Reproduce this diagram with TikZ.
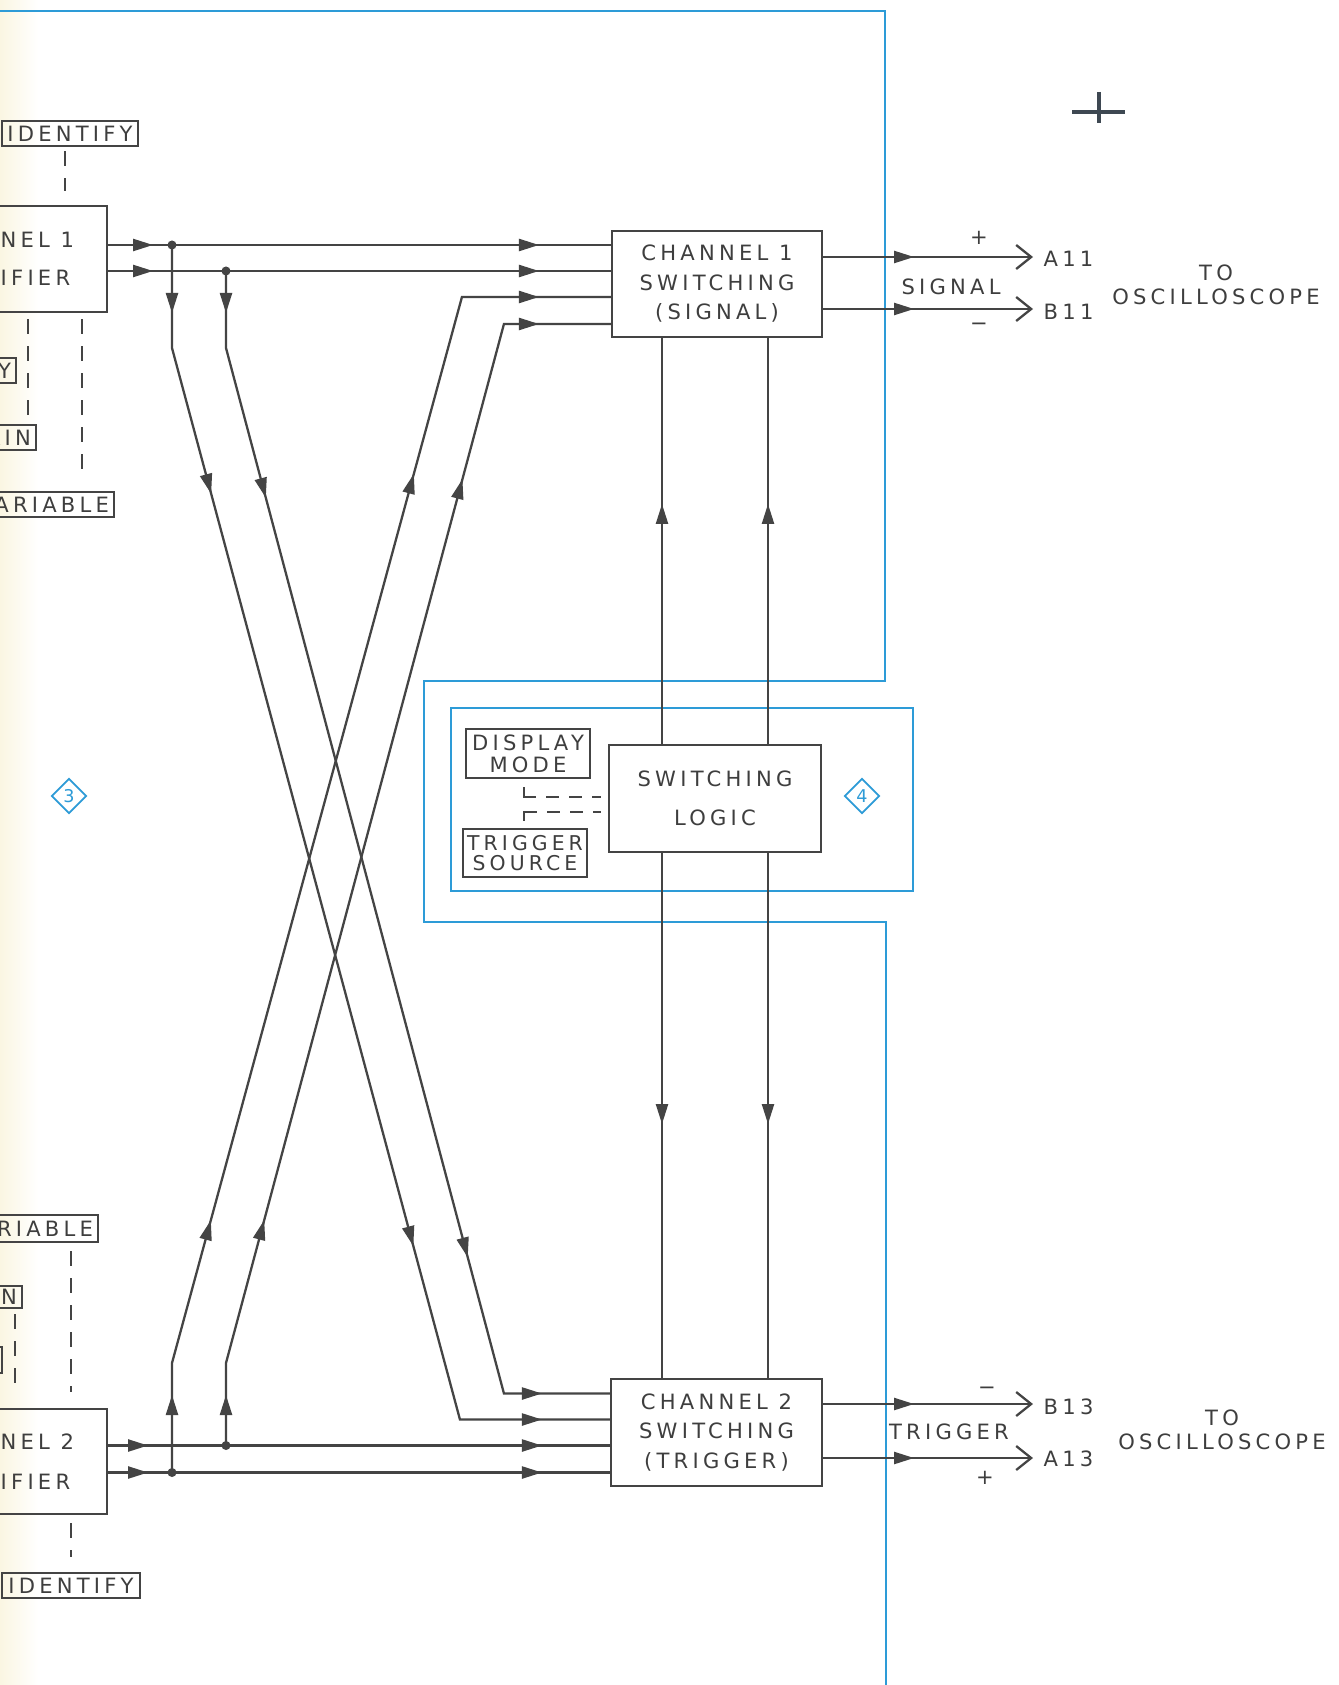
\documentclass[tikz,border=0pt]{standalone}
\usepackage{fontspec}
\usetikzlibrary{arrows.meta,decorations.markings,shapes.geometric}
\newfontfamily\lett[LetterSpace=20]{DejaVu Sans}
\definecolor{ink}{RGB}{68,68,68}
\definecolor{txt}{RGB}{62,62,62}
\definecolor{frameblue}{RGB}{45,155,215}
\definecolor{paper}{RGB}{250,246,226}
\definecolor{regink}{RGB}{62,72,82}
\tikzset{
  sig/.style={draw=ink, line width=0.65pt},
  arr/.style={postaction={decorate,decoration={markings,
    mark=at position #1 with {\arrow[ink]{Triangle[length=2mm,width=1.2mm]}}}}},
  blk/.style={draw=ink, line width=0.6pt, text=txt, align=center, inner sep=0,
    minimum width=21mm, minimum height=10.6mm, font=\lett\fontsize{6}{8.4}\selectfont},
  ctlbox/.style={draw=ink, line width=0.6pt, text=txt, inner xsep=0.5mm, inner ysep=0,
    minimum height=2.5mm, font=\lett\fontsize{6}{6.3}\selectfont},
  lbl/.style={text=txt, inner sep=0, align=center, font=\lett\fontsize{6}{6.8}\selectfont},
  ctrl/.style={draw=ink, line width=0.6pt, dash pattern=on 1.5mm off 1.2mm},
  ctrlL/.style={draw=ink, line width=0.6pt,
    dash pattern=on 2.2mm off 1mm on 1.3mm off 1mm on 1.3mm off 1mm on 1.3mm off 1mm},
  jdot/.style={circle, fill=ink, inner sep=0, minimum size=0.9mm},
  blueframe/.style={draw=frameblue, line width=0.8pt},
  tag/.style={diamond, draw=frameblue, line width=0.5pt, text=frameblue, inner sep=0,
    minimum size=3.5mm, font=\lett\fontsize{5}{5}\selectfont},
  regmark/.style={draw=regink, line width=0.9pt},
  scopeout/.style={sig, -{Straight Barb[length=1.5mm,width=2.4mm]}},
}
\begin{document}
\begin{tikzpicture}[x=0.1mm, y=-0.1mm]
\useasboundingbox (0,0) rectangle (1339,1685);
\clip (0,0) rectangle (1339,1685);
\fill[white] (0,0) rectangle (1339,1685);
\shade[left color=paper, right color=white] (0,0) rectangle (38,1685);

% boards
\draw[blueframe] (-10,11) -- (885,11) -- (885,681) -- (424,681) -- (424,922) -- (886,922) -- (886,1700);
\draw[blueframe] (451,708) rectangle (913,891);
\node[tag] (t3) at (69,796) {3};
\node[tag] (t4) at (862,796) {4};
\draw[regmark] (1072,112) -- (1125,112) (1099,92) -- (1099,123);

% amplifiers and front panel controls
\node[blk, minimum width=21.7mm, font=\lett\fontsize{6}{10.8}\selectfont] (amp1) at (-1.5,259) {CHANNEL 1\\AMPLIFIER};
\node[blk, minimum width=21.7mm, minimum height=10.5mm, font=\lett\fontsize{6}{11.3}\selectfont] (amp2) at (-1.5,1461.5) {CHANNEL 2\\AMPLIFIER};
\node[ctlbox, minimum width=13.6mm] (id1) at (70,133.5) {IDENTIFY};
\node[ctlbox, minimum width=13.8mm] (id2) at (71,1585.5) {IDENTIFY};
\node[ctlbox, anchor=east] (pol1) at (17,370.5) {POLARITY};
\node[ctlbox, anchor=east] (gain1) at (37,437.5) {GAIN};
\node[ctlbox, anchor=east] (var1) at (115,504.5) {VARIABLE};
\node[ctlbox, anchor=east, minimum height=2.7mm] (var2) at (99,1228.5) {VARIABLE};
\node[ctlbox, anchor=east, minimum height=2.2mm] (gain2) at (23,1297) {GAIN};
\node[ctlbox, anchor=east, minimum height=2.6mm] (pol2) at (3,1360) {POLARITY};

\coordinate (cx1) at (65,0);
\coordinate (cx2) at (28,0);
\coordinate (cx3) at (82,0);
\coordinate (cx4) at (71,0);
\coordinate (cx5) at (15,0);
\draw[ctrl, shorten <=0.4mm, shorten >=1.4mm] (cx1 |- id1.south) -- (cx1 |- amp1.north);
\draw[ctrl, shorten <=0.6mm, shorten >=0.7mm] (cx2 |- amp1.south) -- (cx2 |- gain1.north);
\draw[ctrl, shorten <=0.6mm, shorten >=1.2mm] (cx3 |- amp1.south) -- (cx3 |- var1.north);
\draw[ctrl, shorten <=0.8mm, shorten >=1.6mm] (cx4 |- var2.south) -- (cx4 |- amp2.north);
\draw[ctrl, shorten <=0.5mm, shorten >=1.6mm] (cx5 |- gain2.south) -- (cx5 |- amp2.north);
\draw[ctrl, shorten <=0.8mm, shorten >=1.5mm] (cx4 |- amp2.south) -- (cx4 |- id2.north);

% switching
\node[blk] (sw1) at (717,284) {CHANNEL 1\\SWITCHING\\(SIGNAL)};
\node[blk, minimum width=21.1mm, minimum height=10.7mm] (sw2) at (716.5,1432.5) {CHANNEL 2\\SWITCHING\\(TRIGGER)};
\node[blk, minimum width=21.2mm, minimum height=10.7mm, font=\lett\fontsize{6}{11.1}\selectfont] (logic) at (715,798.5) {SWITCHING\\LOGIC};
\node[blk, minimum width=12.4mm, minimum height=4.9mm, font=\lett\fontsize{6}{6.3}\selectfont] (dmode) at (528,753.5) {DISPLAY\\MODE};
\node[blk, minimum width=12.4mm, minimum height=4.8mm, font=\lett\fontsize{5.8}{5.9}\selectfont] (tsrc) at (525,853) {TRIGGER\\SOURCE};
\draw[ctrlL] ([shift={(-4,8)}]dmode.south) |- ([shift={(-7,-1.5)}]logic.west);
\draw[ctrlL] ([shift={(-1,-7)}]tsrc.north) |- ([shift={(-7,13.5)}]logic.west);

\foreach \i/\d in {1/-39,2/-13,3/13,4/40} {
  \coordinate (s1in\i) at ([shift={(0,\d)}]sw1.west);
  \coordinate (s2in\i) at ([shift={(0,\d)}]sw2.west);
}
\coordinate (jx1) at (172,0);
\coordinate (jx2) at (226,0);

\draw[sig, arr=4.5mm, arr=-7.2mm] (amp1.east |- s1in1) -- (s1in1);
\draw[sig, arr=4.5mm, arr=-7.2mm] (amp1.east |- s1in2) -- (s1in2);
\draw[sig, arr=4mm, arr=-6.8mm] (amp2.east |- s2in3) -- (s2in3);
\draw[sig, arr=4mm, arr=-6.8mm] (amp2.east |- s2in4) -- (s2in4);

\draw[sig, arr=6.8mm, arr=25.4mm, arr=103.3mm, arr=-6.8mm]
  (jx1 |- s1in1) node[jdot] {} -- ++(0,103) -- ([shift={(-150,0)}]s2in2) -- (s2in2);
\draw[sig, arr=4.2mm, arr=23.2mm, arr=101.8mm, arr=-6.8mm]
  (jx2 |- s1in2) node[jdot] {} -- ++(0,77) -- ([shift={(-106,0)}]s2in1) -- (s2in1);
\draw[sig, arr=7.75mm, arr=25.75mm, arr=103.1mm, arr=-7.2mm]
  (jx1 |- s2in4) node[jdot] {} -- ++(0,-109.5) -- ([shift={(-149,0)}]s1in3) -- (s1in3);
\draw[sig, arr=5.05mm, arr=23.05mm, arr=99.75mm, arr=-7.2mm]
  (jx2 |- s2in3) node[jdot] {} -- ++(0,-82.5) -- ([shift={(-107,0)}]s1in4) -- (s1in4);

\coordinate (vx1) at (662,0);
\coordinate (vx2) at (768,0);
\foreach \v in {vx1,vx2} {
  \draw[sig, arr=24mm] (\v |- logic.north) -- (\v |- sw1.south);
  \draw[sig, arr=27.1mm] (\v |- logic.south) -- (\v |- sw2.north);
}

% outputs
\coordinate (s1o1) at ([shift={(0,-27)}]sw1.east);
\coordinate (s1o2) at ([shift={(0,25)}]sw1.east);
\coordinate (s2o1) at ([shift={(0,-28.5)}]sw2.east);
\coordinate (s2o2) at ([shift={(0,25.5)}]sw2.east);
\node[lbl, anchor=west, inner xsep=1mm] (a11) at (1033,259) {A11};
\node[lbl, anchor=west, inner xsep=1mm] (b11) at (1033,312) {B11};
\node[lbl, anchor=west, inner xsep=1mm] (b13) at (1033,1407) {B13};
\node[lbl, anchor=west, inner xsep=1mm] (a13) at (1033,1459) {A13};
\draw[scopeout, arr=9.1mm] (s1o1) -- (a11.west |- s1o1);
\draw[scopeout, arr=9.1mm] (s1o2) -- (b11.west |- s1o2);
\draw[scopeout, arr=9.1mm] (s2o1) -- (b13.west |- s2o1);
\draw[scopeout, arr=9.1mm] (s2o2) -- (a13.west |- s2o2);
\node[lbl] (plus1) at (979,238) {+};
\node[lbl] (minus1) at (979,327) {−};
\node[lbl] (signal) at (951,287) {SIGNAL};
\node[lbl] (minus2) at (987,1391) {−};
\node[lbl] (plus2) at (985,1478) {+};
\node[lbl] (trigger) at (949,1432) {TRIGGER};
\node[lbl] (scope1) at (1216,285) {TO\\OSCILLOSCOPE};
\node[lbl] (scope2) at (1222,1430) {TO\\OSCILLOSCOPE};
\end{tikzpicture}
\end{document}
